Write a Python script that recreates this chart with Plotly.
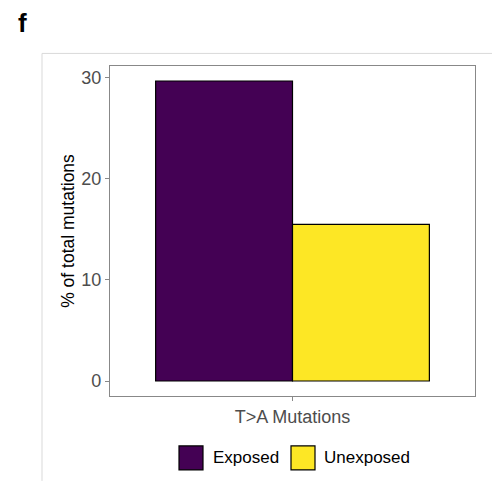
import plotly.graph_objects as go

categories = ["T>A Mutations"]
groups = ["Exposed", "Unexposed"]
values = {"Exposed": [29.7], "Unexposed": [15.5]}
colors = {"Exposed": "#440154", "Unexposed": "#FDE725"}
y_ticks = [0, 10, 20, 30]

W, H = 500, 481
L, R, T, B = 110, 475, 65.6, 396


def px_x(p):
    return (p - L) / (R - L)


def px_y(p):
    return (B - p) / (B - T)


fig = go.Figure()
for g in groups:
    fig.add_trace(go.Bar(
        x=categories, y=values[g], name=g,
        marker=dict(color=colors[g], line=dict(color="black", width=1.2)),
        showlegend=False,
    ))

vmax = max(max(v) for v in values.values())
ylo, yhi = -0.05 * vmax, 1.05 * vmax

font = "Liberation Sans, Arial, Helvetica, sans-serif"
fig.update_layout(
    width=W, height=H,
    margin=dict(l=L, r=W - R, t=T, b=H - B),
    paper_bgcolor="white", plot_bgcolor="white",
    barmode="group", bargap=0.1, bargroupgap=0,
    font=dict(family=font, color="#4d4d4d", size=18),
    xaxis=dict(range=[-0.6, 0.6], showline=True, mirror=True, linecolor="#888888", linewidth=1.2,
               ticks="outside", ticklen=4, tickcolor="#888888", showgrid=False,
               tickfont=dict(size=18, color="#4d4d4d")),
    yaxis=dict(range=[ylo, yhi], tickvals=y_ticks, showline=True, mirror=True, linecolor="#888888",
               linewidth=1.2, ticks="outside", ticklen=4, tickcolor="#888888", showgrid=False,
               zeroline=False, tickfont=dict(size=18, color="#4d4d4d"),
               title=dict(text="% of total mutations", font=dict(size=17.5, color="black"), standoff=2)),
    showlegend=False,
)

shapes = []
# outer light frame
shapes.append(dict(type="line", xref="paper", yref="paper", x0=px_x(42), x1=px_x(492), y0=px_y(53), y1=px_y(53),
                   line=dict(color="#d9d9d9", width=1)))
shapes.append(dict(type="line", xref="paper", yref="paper", x0=px_x(42), x1=px_x(42), y0=px_y(53), y1=px_y(481),
                   line=dict(color="#d9d9d9", width=1)))

# legend keys
key_x = {"Exposed": 179, "Unexposed": 291}
text_x = {"Exposed": 213, "Unexposed": 324}
annotations = []
for g in groups:
    shapes.append(dict(type="rect", xref="paper", yref="paper",
                       x0=px_x(key_x[g]), x1=px_x(key_x[g] + 24), y0=px_y(470), y1=px_y(446),
                       fillcolor=colors[g], line=dict(color="black", width=1.2)))
    annotations.append(dict(text=g, xref="paper", yref="paper", x=px_x(text_x[g] - 2), y=px_y(458),
                            xanchor="left", yanchor="middle", showarrow=False,
                            font=dict(size=17, color="black", family=font)))

annotations.append(dict(text="<b>f</b>", xref="paper", yref="paper", x=px_x(16), y=px_y(23),
                        xanchor="left", yanchor="middle", showarrow=False,
                        font=dict(size=26, color="black", family=font)))

fig.update_layout(shapes=shapes, annotations=annotations)
fig.write_html("out.html")
